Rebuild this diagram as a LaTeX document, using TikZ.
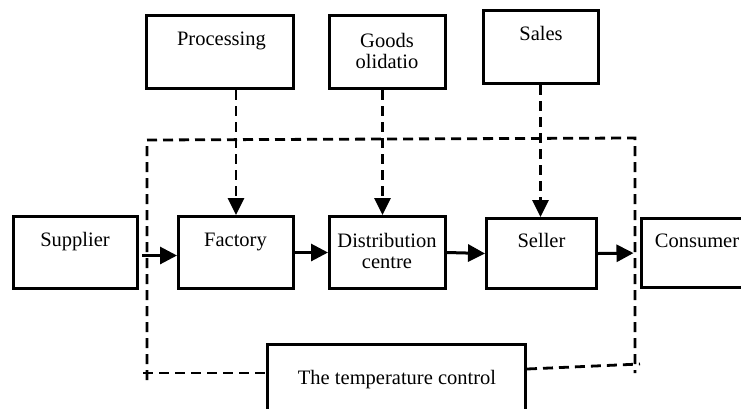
\documentclass[tikz,border=0pt]{standalone}
\usepackage{fontspec}
\setmainfont{Liberation Serif}
\usetikzlibrary{arrows.meta}
\begin{document}
\begin{tikzpicture}[x=1pt,y=-1pt,
  box/.style={draw,line width=3pt,inner sep=0pt},
  lbl/.style={anchor=base,font=\fontsize{20.5}{22}\selectfont,inner sep=0pt},
  flow/.style={line width=3pt,-{Triangle[length=17pt,width=17pt]}},
  ctl/.style={line width=2.8pt,dash pattern=on 10pt off 6pt,-{Triangle[length=17pt,width=16pt]}},
  framedash/.style={line width=2.8pt,dash pattern=on 10pt off 6pt}]
\useasboundingbox (0,0) rectangle (741,408);
% boxes
\node[box,minimum width=147pt,minimum height=73pt] (P) at (220,52) {};
\node[box,minimum width=116pt,minimum height=73pt] (G) at (387.5,52) {};
\node[box,minimum width=115pt,minimum height=73pt] (S) at (541,47) {};
\node[box,minimum width=124pt,minimum height=72pt] (Su) at (75.5,252.5) {};
\node[box,minimum width=115pt,minimum height=72pt] (F) at (236,252.5) {};
\node[box,minimum width=116pt,minimum height=72pt] (D) at (387.5,252.5) {};
\node[box,minimum width=110pt,minimum height=70pt] (Se) at (541.5,253.5) {};
\node[box,minimum width=112pt,minimum height=69pt] (C) at (697,253) {};
\node[box,minimum width=258pt,minimum height=75pt] (T) at (396.5,382) {};
% labels
\node[lbl] (tP) at (221.5,45) {Processing};
\node[lbl] (tG1) at (387,47) {Goods};
\node[lbl] (tG2) at (387,68) {olidatio};
\node[lbl] (tS) at (541,40) {Sales};
\node[lbl] (tSu) at (75,246) {Supplier};
\node[lbl] (tF) at (235.5,246) {Factory};
\node[lbl] (tD1) at (387,247) {Distribution};
\node[lbl] (tD2) at (387,268) {centre};
\node[lbl] (tSe) at (541.5,247) {Seller};
\node[lbl] (tC) at (697,247) {Consumer};
\node[lbl] (tT) at (397,384) {The temperature control};
% frame of temperature control
\coordinate (fTL) at (147,140);
\coordinate (fTR) at (635,138);
\coordinate (fLB) at (147,380);
\coordinate (fBL) at (143,373);
\coordinate (fRB) at (635,373);
\coordinate (fRE) at (640,364);
\coordinate (tW) at (266,373);
\coordinate (tE) at (527,369);
\draw[framedash] (fLB) -- (fTL) -- (fTR) -- (fRB);
\draw[framedash] (fBL) -- (tW);
\draw[framedash] (tE) -- (fRE);
% control arrows
\draw[ctl] (F.north |- P.south) -- (F.north);
\draw[ctl] ([xshift=-5pt]D.north |- G.south) -- ([xshift=-5pt]D.north);
\draw[ctl] ([xshift=-1pt]Se.north |- S.south) -- ([xshift=-1pt]Se.north);
% flow arrows
\draw[flow,shorten <=3pt] ([yshift=-3pt]Su.east) -- ([yshift=-3pt]F.west);
\draw[flow] (F.east) -- (D.west);
\draw[flow] (D.east) -- (Se.west);
\draw[flow,shorten >=6pt] (Se.east) -- (C.west);
\end{tikzpicture}
\end{document}
